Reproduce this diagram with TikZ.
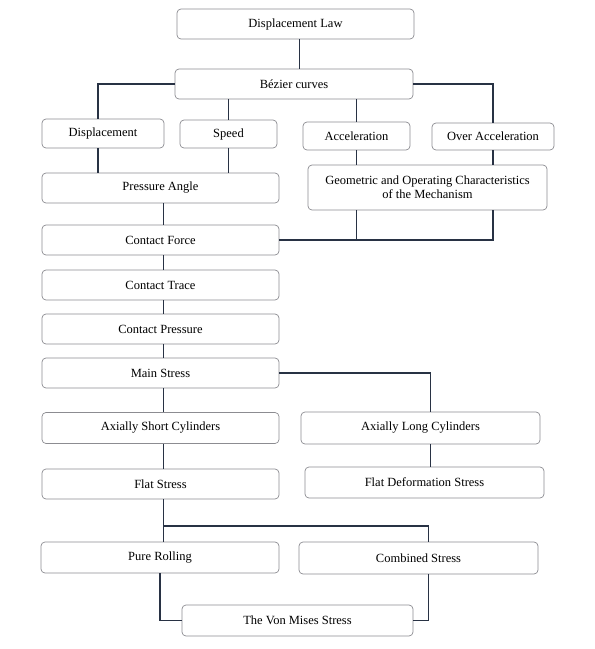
\documentclass[tikz,border=0pt]{standalone}
\usepackage{fontspec}
\setmainfont{Liberation Serif}
\usepackage{tikz}
\usetikzlibrary{calc}
\definecolor{boxgray}{RGB}{140,140,145}
\definecolor{linkblue}{RGB}{40,50,68}
\tikzset{>=latex,%
  box/.style={draw=boxgray,line width=0.7pt,rounded corners=4pt,fill=white,
    inner sep=0pt,align=center,font=\fontsize{12.5}{14}\selectfont},
  link/.style={draw=linkblue,line width=1.1pt}}

\begin{document}
\begin{tikzpicture}[x=1pt,y=-1pt]
      \useasboundingbox (0,0) rectangle (595,649);
      % top of the tree
      \node[box,minimum width=237pt,minimum height=30pt] (dlaw) at (295.5,24) {Displacement Law};
      \node[box,minimum width=238pt,minimum height=30pt] (bez) at (294,84) {B\'ezier curves};
      \node[box,minimum width=122pt,minimum height=29pt] (disp) at (103,133.5) {Displacement};
      \node[box,minimum width=97pt,minimum height=28pt] (speed) at (228.5,134) {Speed};
      \node[box,minimum width=107pt,minimum height=28pt] (acc) at (356.5,136) {Acceleration};
      \node[box,minimum width=122pt,minimum height=27pt] (oacc) at (493,136.5) {Over Acceleration};
      \node[box,minimum width=237pt,minimum height=30pt] (pang) at (160.5,188) {Pressure Angle};
      \node[box,minimum width=239pt,minimum height=45pt] (geo) at (427.5,187.5)
        {Geometric and Operating Characteristics\\of the Mechanism};
      % left column
      \node[box,minimum width=237pt,minimum height=30pt] (cforce) at (160.5,240) {Contact Force};
      \node[box,minimum width=237pt,minimum height=30pt] (ctrace) at (160.5,285) {Contact Trace};
      \node[box,minimum width=237pt,minimum height=30pt] (cpress) at (160.5,329) {Contact Pressure};
      \node[box,minimum width=237pt,minimum height=30pt] (mstress) at (160.5,373) {Main Stress};
      \node[box,minimum width=237pt,minimum height=31pt] (short) at (160.5,428) {Axially Short Cylinders};
      \node[box,minimum width=239pt,minimum height=32pt] (longc) at (420.5,428) {Axially Long Cylinders};
      \node[box,minimum width=237pt,minimum height=30pt] (flat) at (160.5,484) {Flat Stress};
      \node[box,minimum width=239pt,minimum height=31pt] (fdef) at (424.5,482.5) {Flat Deformation Stress};
      \node[box,minimum width=238pt,minimum height=31pt] (pure) at (160,557.5) {Pure Rolling};
      \node[box,minimum width=239pt,minimum height=32pt] (comb) at (418.5,558) {Combined Stress};
      \node[box,minimum width=231pt,minimum height=31pt] (vmis) at (297.5,620.5) {The Von Mises Stress};
      % connectors
      \draw[link] ([xshift=4pt]dlaw.south) -- ([xshift=4pt]dlaw.south |- bez.north);
      \draw[link] (bez.west) -| ([xshift=-5pt]disp.north);
      \draw[link] (bez.south -| speed.north) -- (speed.north);
      \draw[link] (bez.south -| acc.north) -- (acc.north);
      \draw[link] (bez.east) -| (oacc.north);
      \draw[link] ([xshift=-5pt]disp.south) -- ([xshift=-5pt]disp.south |- pang.north);
      \draw[link] (speed.south) -- (speed.south |- pang.north);
      \draw[link] (acc.south) -- (acc.south |- geo.north);
      \draw[link] (oacc.south) -- (oacc.south |- geo.north);
      \draw[link] ([xshift=3pt]pang.south) -- ([xshift=3pt]cforce.north);
      \draw[link] (cforce.east) -| (oacc.south |- geo.south);
      \draw[link] (acc.south |- geo.south) -- (acc.south |- cforce.east);
      \draw[link] ([xshift=3pt]cforce.south) -- ([xshift=3pt]ctrace.north);
      \draw[link] ([xshift=3pt]ctrace.south) -- ([xshift=3pt]cpress.north);
      \draw[link] ([xshift=3pt]cpress.south) -- ([xshift=3pt]mstress.north);
      \draw[link] ([xshift=3pt]mstress.south) -- ([xshift=3pt]short.north);
      \draw[link] (mstress.east) -| ([xshift=10pt]longc.north);
      \draw[link] ([xshift=10pt]longc.south) -- ([xshift=10pt]longc.south |- fdef.north);
      \draw[link] ([xshift=3pt]short.south) -- ([xshift=3pt]flat.north);
      \draw[link] ([xshift=3pt]flat.south) -- ([xshift=3pt]flat.south |- pure.north);
      \coordinate (split) at ([xshift=3pt]flat.south |- 0,526);
      \draw[link] (split) -| ([xshift=10pt]comb.north);
      \draw[link] (pure.south) |- (vmis.west);
      \draw[link] ([xshift=10pt]comb.south) |- (vmis.east);
    \end{tikzpicture}
\end{document}
